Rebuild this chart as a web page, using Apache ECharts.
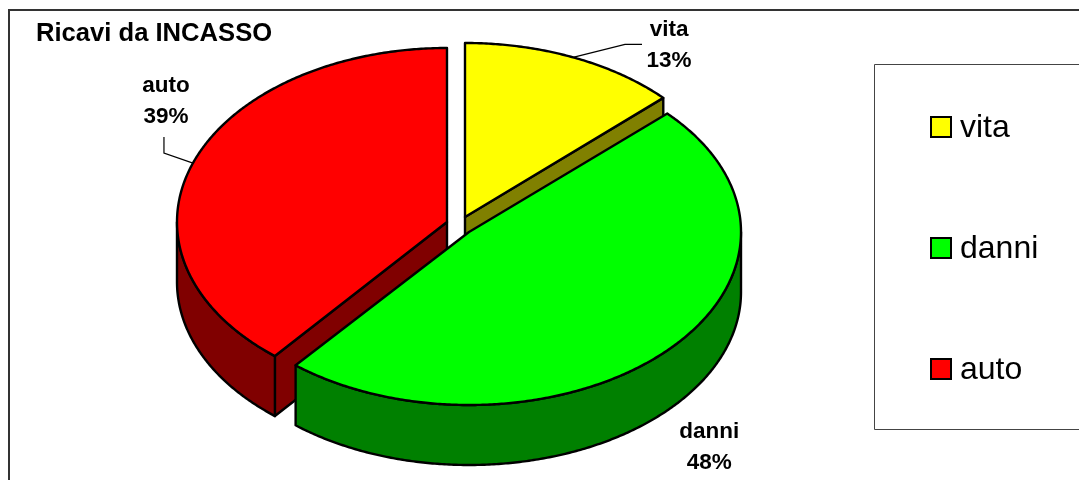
<!DOCTYPE html>
<html>
<head>
<meta charset="utf-8">
<title>Ricavi da INCASSO</title>
<style>
  html, body { margin: 0; padding: 0; background: #fff; }
  #chart { width: 1079px; height: 480px; }
</style>
<script src="https://cdn.jsdelivr.net/npm/echarts@6/dist/echarts.min.js"></script>
</head>
<body>
<div id="chart"></div>
<script>
// Revenue split, in percent
const categories = ['vita', 'danni', 'auto'];
const shares = [13, 48, 39];

const topColors = ['#ffff00', '#00ff00', '#ff0000'];
const sideColors = ['#808000', '#008000', '#800000'];

// Exploded-pie geometry: each slice has its own ellipse, all share one wall depth
const DEPTH = 60;
const ellipses = [
  { cx: 465, cy: 217, rx: 272, ry: 174 },
  { cx: 469, cy: 232, rx: 272, ry: 173 },
  { cx: 447, cy: 222, rx: 270, ry: 174 }
];
// Leader elbows and label centres, relative to the slice's mid-arc anchor
const labelLayouts = [
  { leader: [[52, -13], [69, -13]], text: [96, -12] },
  { leader: [], text: [42, 97] },
  { leader: [[-29, -10], [-29, -26]], text: [-27, -62] }
];
// Paint order back to front: auto, vita, danni
const paintOrder = [2, 3, 1];

const FONT = '"Liberation Sans", Arial, sans-serif';
const total = shares.reduce((a, b) => a + b, 0);
const startShares = shares.map((_, i) => shares.slice(0, i).reduce((a, b) => a + b, 0));

function rimPoint(e, deg, drop) {
  const t = deg * Math.PI / 180;
  return [e.cx + e.rx * Math.sin(t), e.cy - e.ry * Math.cos(t) + drop];
}

function arcPoints(e, from, to, drop) {
  const pts = [];
  const steps = Math.max(1, Math.ceil(Math.abs(to - from) * 2));
  for (let k = 0; k <= steps; k++) {
    pts.push(rimPoint(e, from + (to - from) * k / steps, drop));
  }
  return pts;
}

function face(points, fill) {
  return {
    type: 'polygon',
    shape: { points },
    style: { fill, stroke: '#000', lineWidth: 2.4, lineJoin: 'round' }
  };
}

function renderSlice(params, api) {
  const i = params.seriesIndex;
  const e = ellipses[i];
  const value = api.value(0);
  const a0 = api.value(1) / total * 360;
  const a1 = a0 + value / total * 360;
  const centre = [e.cx, e.cy];
  const children = [];

  // Cut faces turned towards the viewer
  [[a0, Math.sin(a0 * Math.PI / 180) < -1e-6], [a1, Math.sin(a1 * Math.PI / 180) > 1e-6]]
    .forEach(([a, visible]) => {
      if (!visible) return;
      const rim = rimPoint(e, a, 0);
      children.push(face([
        centre, rim, [rim[0], rim[1] + DEPTH], [centre[0], centre[1] + DEPTH]
      ], sideColors[i]));
    });

  // Outer wall: only the front half of the rim shows
  const w0 = Math.max(a0, 90);
  const w1 = Math.min(a1, 270);
  if (w1 > w0) {
    children.push(face(
      arcPoints(e, w0, w1, 0).concat(arcPoints(e, w1, w0, DEPTH)),
      sideColors[i]
    ));
  }

  // Top face
  children.push(face([centre].concat(arcPoints(e, a0, a1, 0)), topColors[i]));

  // Leader line and data label, placed from the middle of the arc
  const mid = (a0 + a1) / 2;
  const anchor = rimPoint(e, mid, 0);
  const layout = labelLayouts[i];
  if (layout.leader.length) {
    children.push({
      type: 'polyline',
      shape: {
        points: [anchor].concat(layout.leader.map(d => [anchor[0] + d[0], anchor[1] + d[1]]))
      },
      style: { fill: 'none', stroke: '#000', lineWidth: 1.2 }
    });
  }
  children.push({
    type: 'text',
    style: {
      x: anchor[0] + layout.text[0],
      y: anchor[1] + layout.text[1],
      text: categories[i] + '\n' + value + '%',
      textAlign: 'center',
      textVerticalAlign: 'middle',
      fill: '#000',
      fontFamily: FONT,
      fontWeight: 'bold',
      fontSize: 22.5,
      lineHeight: 30.5
    }
  });
  return { type: 'group', children };
}

const chart = echarts.init(document.getElementById('chart'), null, { renderer: 'canvas' });
chart.setOption({
  animation: false,
  backgroundColor: '#fff',
  title: {
    text: 'Ricavi da INCASSO',
    left: 36,
    top: 21,
    padding: 0,
    textStyle: { fontFamily: FONT, fontWeight: 'bold', fontSize: 25.6, color: '#000' }
  },
  legend: {
    data: categories,
    orient: 'vertical',
    left: 930,
    top: 112,
    padding: 0,
    icon: 'rect',
    itemWidth: 20,
    itemHeight: 20,
    itemGap: 89,
    selectedMode: false,
    itemStyle: { borderColor: '#000', borderWidth: 2 },
    formatter: '{t|{name}}',
    textStyle: {
      rich: {
        t: {
          fontFamily: FONT,
          fontSize: 32,
          color: '#000',
          padding: [2, 0, 0, 4]
        }
      }
    }
  },
  graphic: [
    {
      type: 'rect',
      silent: true,
      z: -1,
      shape: { x: 9, y: 10, width: 1200, height: 600 },
      style: { fill: '#fff', stroke: '#333', lineWidth: 2 }
    },
    {
      type: 'rect',
      silent: true,
      z: -1,
      shape: { x: 874.5, y: 64.5, width: 400, height: 365 },
      style: { fill: '#fff', stroke: '#444', lineWidth: 1 }
    }
  ],
  series: categories.map((name, i) => ({
    type: 'custom',
    name,
    coordinateSystem: 'none',
    z: paintOrder[i],
    silent: true,
    itemStyle: { color: topColors[i] },
    renderItem: renderSlice,
    data: [[shares[i], startShares[i]]]
  }))
});
</script>
</body>
</html>
